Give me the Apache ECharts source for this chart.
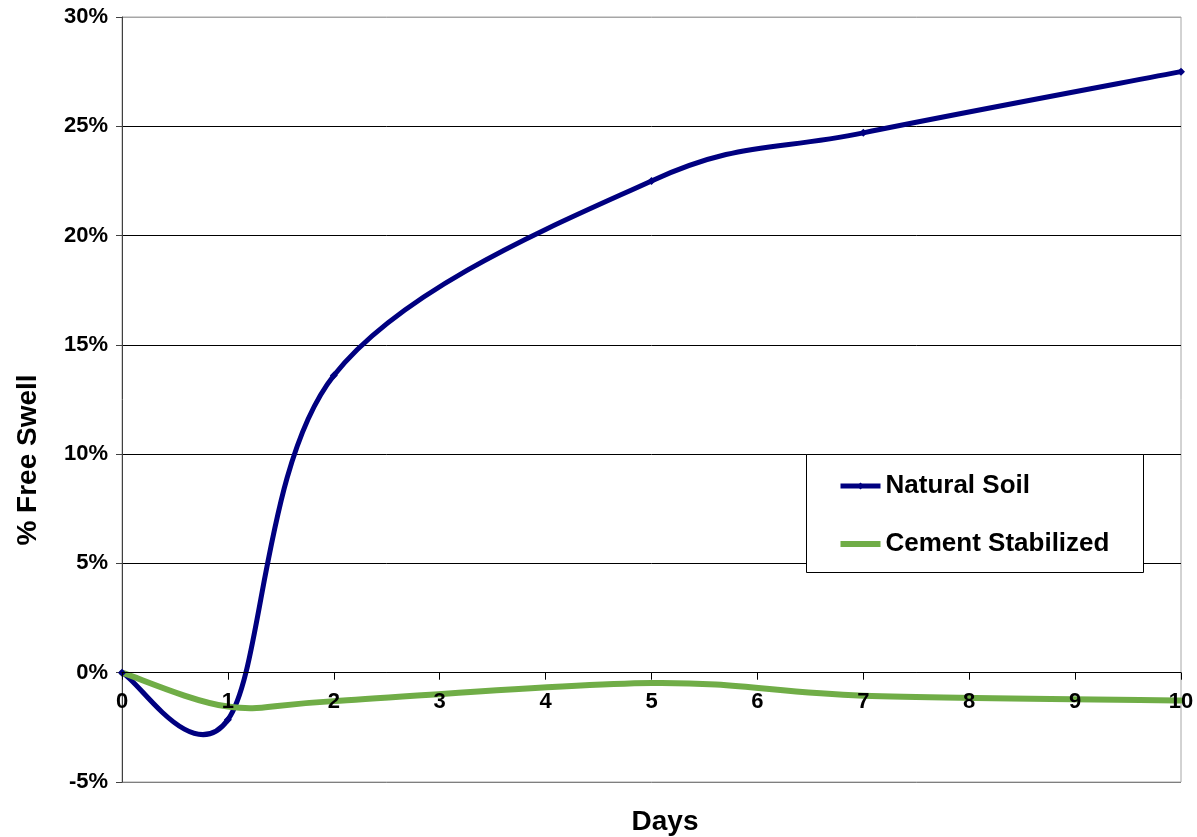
<!DOCTYPE html>
<html>
<head>
<meta charset="utf-8">
<script src="https://cdn.jsdelivr.net/npm/echarts@6/dist/echarts.min.js"></script>
<style>
  html, body { margin: 0; padding: 0; background: #ffffff; }
  #chart { width: 1197px; height: 837px; }
</style>
</head>
<body>
<div id="chart"></div>
<script>
// Free swell measurements (percent) by day
const days = [0, 1, 2, 5, 7, 10];
const naturalSoil = [0, -2.15, 13.6, 22.5, 24.7, 27.5];
const cementStabilized = [0, -1.55, -1.3, -0.47, -1.05, -1.27];

// Axis ranges
const yTickValues = [-5, 0, 5, 10, 15, 20, 25, 30];
const xTickValues = [0, 1, 2, 3, 4, 5, 6, 7, 8, 9, 10];

const seriesNames = ['Natural Soil', 'Cement Stabilized'];
const NAVY = '#000080';
const GREEN = '#70AD47';
const NAVY_WIDTH = 5;
const GREEN_WIDTH = 6;
const FONT = '"Liberation Sans", Arial, Helvetica, sans-serif';

const GRID = { left: 122, right: 16, top: 17, bottom: 55 };
const CHART_H = 837;

function toPairs(values) {
  return days.map((d, i) => [d, values[i]]);
}

// Smoothed curve through the data points (cardinal spline, drawn in pixel space)
function smoothCurve(id, values, color, width) {
  const pairs = toPairs(values);
  return {
    type: 'custom',
    id: id,
    name: id,
    data: pairs,
    encode: { x: 0, y: 1 },
    silent: true,
    z: 3,
    renderItem(params, api) {
      if (params.dataIndex !== 0) return null;
      const pts = pairs.map(p => api.coord(p));
      let d = 'M' + pts[0][0] + ' ' + pts[0][1];
      for (let i = 0; i < pts.length - 1; i++) {
        const p0 = pts[Math.max(i - 1, 0)];
        const p1 = pts[i];
        const p2 = pts[i + 1];
        const p3 = pts[Math.min(i + 2, pts.length - 1)];
        const c1x = p1[0] + (p2[0] - p0[0]) / 6;
        const c1y = p1[1] + (p2[1] - p0[1]) / 6;
        const c2x = p2[0] - (p3[0] - p1[0]) / 6;
        const c2y = p2[1] - (p3[1] - p1[1]) / 6;
        d += ' C' + c1x + ' ' + c1y + ' ' + c2x + ' ' + c2y + ' ' + p2[0] + ' ' + p2[1];
      }
      return {
        type: 'path',
        shape: { pathData: d },
        style: { fill: 'none', stroke: color, lineWidth: width, lineJoin: 'round', lineCap: 'round' }
      };
    }
  };
}

const chart = echarts.init(document.getElementById('chart'), null, { renderer: 'canvas' });

const yMin = yTickValues[0];
const yMax = yTickValues[yTickValues.length - 1];
const yStep = yTickValues[1] - yTickValues[0];

// Place the horizontal axis on the zero line (offset inward from the bottom edge)
const plotH = CHART_H - GRID.top - GRID.bottom;
const zeroOffset = -((0 - yMin) / (yMax - yMin)) * plotH;

chart.setOption({
  animation: false,
  backgroundColor: '#ffffff',
  grid: Object.assign({
    show: true, borderColor: '#a6a6a6', borderWidth: 1, backgroundColor: 'transparent'
  }, GRID),
  xAxis: {
    type: 'value',
    position: 'bottom',
    offset: zeroOffset,
    z: 10,
    min: xTickValues[0],
    max: xTickValues[xTickValues.length - 1],
    interval: xTickValues[1] - xTickValues[0],
    axisLine: { show: true, onZero: false, lineStyle: { color: '#000000', width: 1 } },
    axisTick: { show: true, length: 7, lineStyle: { color: '#000000' } },
    axisLabel: {
      show: true, margin: 18, color: '#000000',
      fontFamily: FONT, fontWeight: 'bold', fontSize: 22
    },
    splitLine: { show: false }
  },
  yAxis: {
    type: 'value',
    min: yMin, max: yMax, interval: yStep,
    axisLine: { show: true, onZero: false, lineStyle: { color: '#404040', width: 1 } },
    axisTick: { show: true, length: 6, lineStyle: { color: '#404040' } },
    axisLabel: {
      show: true, margin: 14, color: '#000000',
      fontFamily: FONT, fontWeight: 'bold', fontSize: 22,
      formatter: '{value}%'
    },
    splitLine: {
      show: true,
      lineStyle: {
        color: ['#7f7f7f', '#000000', '#000000', '#000000', '#000000', '#000000', '#000000', '#a6a6a6'],
        width: 1
      }
    }
  },
  legend: {
    show: true,
    orient: 'vertical',
    left: 838,
    top: 471,
    padding: 0,
    z: 20,
    itemWidth: 40,
    itemHeight: 9,
    itemGap: 28,
    data: [
      { name: seriesNames[0] },
      { name: seriesNames[1], icon: 'path://M0,0h40v6h-40z' }
    ],
    lineStyle: { opacity: 1, width: NAVY_WIDTH },
    textStyle: {
      fontFamily: FONT, fontWeight: 'bold', fontSize: 26, color: '#000000',
      lineHeight: 30
    },
    selectedMode: false
  },
  graphic: [
    {
      type: 'rect', silent: true, z: 5,
      shape: { x: 806.5, y: 454.5, width: 337, height: 118 },
      style: { fill: '#ffffff', stroke: '#000000', lineWidth: 1 }
    },
    {
      type: 'text', silent: true,
      x: 665, y: 822,
      style: {
        text: 'Days', fill: '#000000', font: 'bold 28px ' + FONT,
        textAlign: 'center', textVerticalAlign: 'middle'
      }
    },
    {
      type: 'text', silent: true,
      x: 28, y: 460, rotation: Math.PI / 2,
      style: {
        text: '% Free Swell', fill: '#000000', font: 'bold 28px ' + FONT,
        textAlign: 'center', textVerticalAlign: 'middle'
      }
    }
  ],
  series: [
    smoothCurve('natural-curve', naturalSoil, NAVY, NAVY_WIDTH),
    smoothCurve('cement-curve', cementStabilized, GREEN, GREEN_WIDTH),
    {
      name: seriesNames[0],
      type: 'line',
      data: toPairs(naturalSoil),
      symbol: 'diamond',
      symbolSize: 8,
      showSymbol: true,
      color: NAVY,
      itemStyle: { color: NAVY },
      lineStyle: { color: NAVY, width: NAVY_WIDTH, opacity: 0 },
      z: 4
    },
    {
      name: seriesNames[1],
      type: 'line',
      data: toPairs(cementStabilized),
      symbol: 'none',
      showSymbol: false,
      color: GREEN,
      itemStyle: { color: GREEN },
      lineStyle: { color: GREEN, width: GREEN_WIDTH, opacity: 0 },
      z: 4
    }
  ]
});
</script>
</body>
</html>
